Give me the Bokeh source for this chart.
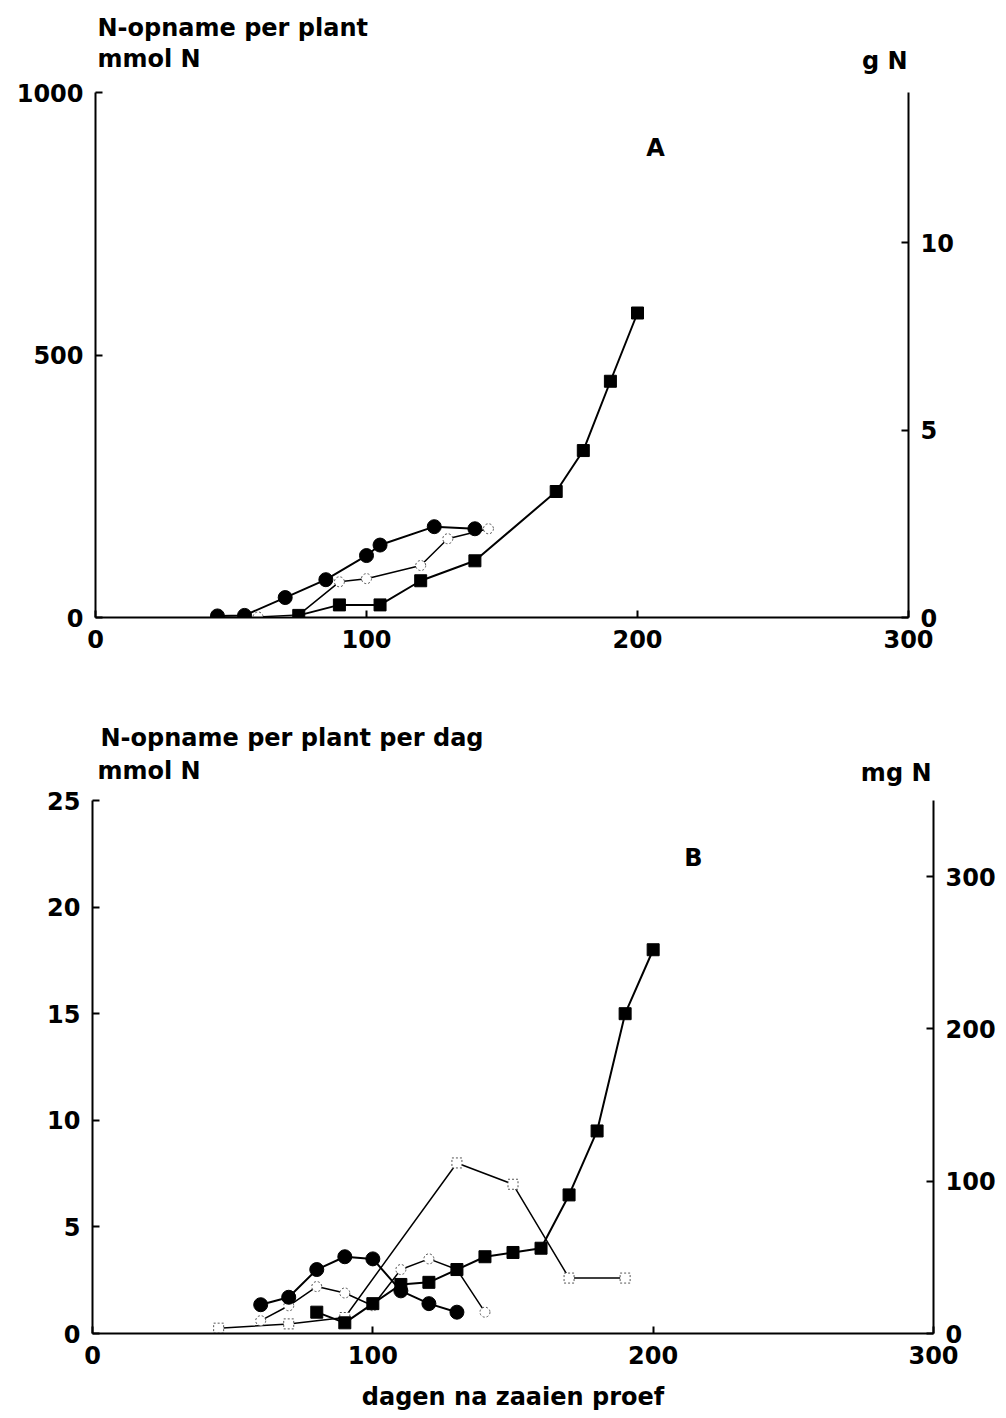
from bokeh.plotting import figure
from bokeh.models import Range1d, LinearAxis, Label, FixedTicker
from bokeh.layouts import column
from bokeh.embed import file_html
from bokeh.resources import INLINE

# ---------------- data ----------------
# Panel A: cumulative N uptake per plant (mmol N)
a_fc_days = [45, 55, 70, 85, 100, 105, 125, 140]
a_fc_vals = [3, 4, 38, 72, 118, 138, 173, 169]
a_oc_days = [60, 75, 90, 100, 120, 130, 145]
a_oc_vals = [1, 5, 68, 74, 99, 150, 169]
a_fs_days = [75, 90, 105, 120, 140, 170, 180, 190, 200]
a_fs_vals = [4, 24, 24, 70, 108, 240, 318, 450, 580]

# Panel B: N uptake per plant per day (mmol N)
b_fc_days = [60, 70, 80, 90, 100, 110, 120, 130]
b_fc_vals = [1.35, 1.7, 3.0, 3.6, 3.5, 2.0, 1.4, 1.0]
b_oc_days = [60, 70, 80, 90, 100, 110, 120, 130, 140]
b_oc_vals = [0.6, 1.3, 2.2, 1.9, 1.3, 3.0, 3.5, 3.0, 1.0]
b_os_days = [45, 70, 90, 130, 150, 170, 190]
b_os_vals = [0.25, 0.45, 0.75, 8.0, 7.0, 2.6, 2.6]
b_fs_days = [80, 90, 100, 110, 120, 130, 140, 150, 160, 170, 180, 190, 200]
b_fs_vals = [1.0, 0.5, 1.4, 2.3, 2.4, 3.0, 3.6, 3.8, 4.0, 6.5, 9.5, 15.0, 18.0]

x_ticks = [0, 100, 200, 300]
a_left_ticks = [0, 500, 1000]
a_right_ticks = [0, 5, 10]
b_left_ticks = [0, 5, 10, 15, 20, 25]
b_right_ticks = [0, 100, 200, 300]

A_YMAX, A_RMAX = 1000, 14       # mmol N  /  g N
B_YMAX, B_RMAX = 25, 350        # mmol N  /  mg N

FONT = "DejaVu Sans"
FS = "24px"


def style_axis(ax, ticks):
    ax.ticker = FixedTicker(ticks=ticks)
    ax.axis_line_width = 2
    ax.axis_line_color = "black"
    ax.major_tick_line_width = 2
    ax.major_tick_in = 7
    ax.major_tick_out = 0
    ax.minor_tick_line_color = None
    ax.major_label_text_font = FONT
    ax.major_label_text_font_style = "bold"
    ax.major_label_text_font_size = FS
    ax.major_label_text_color = "black"
    ax.major_label_standoff = 12


class Panel:
    """Figure whose frame spans (fx0..fx1, fy_top..fy_axis) px, with the axis
    data range 0..ymax mapped to (fy_axis..fy_ymax)."""

    def __init__(self, height, fx0, fx1, fy_top, fy_ymax, fy_axis, fig_top,
                 ymax, rmax, lticks, rticks):
        self.fx0, self.fx1, self.fy_axis, self.fy_ymax = fx0, fx1, fy_axis, fy_ymax
        self.ymax = ymax
        ppu = (fy_axis - fy_ymax) / ymax
        yend = (fy_axis - fy_top) / ppu
        rend = yend * rmax / ymax
        p = figure(width=1006, height=height, output_backend="svg", toolbar_location=None,
                   x_range=Range1d(0, 300), y_range=Range1d(0, yend),
                   min_border_left=fx0, min_border_right=1006 - fx1,
                   min_border_top=fy_top - fig_top,
                   min_border_bottom=fig_top + height - fy_axis)
        try:
            p.frame_align = False
        except Exception:
            pass
        p.outline_line_color = None
        p.grid.grid_line_color = None
        p.background_fill_color = "white"
        p.border_fill_color = "white"
        p.extra_y_ranges = {"r": Range1d(0, rend)}
        style_axis(p.xaxis[0], x_ticks)
        style_axis(p.yaxis[0], lticks)
        p.yaxis[0].bounds = (0, ymax)
        ra = LinearAxis(y_range_name="r", bounds=(0, rmax))
        style_axis(ra, rticks)
        p.add_layout(ra, "right")
        self.p = p

    def px(self, x, y):
        dx = (x - self.fx0) / (self.fx1 - self.fx0) * 300
        dy = (self.fy_axis - y) / (self.fy_axis - self.fy_ymax) * self.ymax
        return dx, dy

    def text(self, x, y, s, align="left"):
        dx, dy = self.px(x, y)
        self.p.add_layout(Label(x=dx, y=dy, text=s, text_font=FONT, text_font_style="bold",
                                text_font_size=FS, text_align=align, text_baseline="middle",
                                text_color="black"))

    def series(self, xs, ys, marker, filled, lw):
        p = self.p
        p.line(xs, ys, line_color="black", line_width=lw)
        if filled:
            p.scatter(xs, ys, marker=marker, size=14 if marker == "circle" else 12,
                      fill_color="black", line_color="black")
        else:
            p.scatter(xs, ys, marker=marker, size=10, fill_color="white",
                      line_color="#555555", line_width=1, line_dash="2 2")


# ---------------- panel A ----------------
A = Panel(700, 95, 908, 8, 92, 617, 0, A_YMAX, A_RMAX, a_left_ticks, a_right_ticks)
A.series(a_oc_days, a_oc_vals, "circle", False, 1.5)
A.series(a_fs_days, a_fs_vals, "square", True, 2)
A.series(a_fc_days, a_fc_vals, "circle", True, 2)
A.text(97, 27, "N-opname per plant")
A.text(97, 58, "mmol N")
A.text(907, 60, "g N", align="right")
A.text(655, 147, "A", align="center")

# ---------------- panel B ----------------
B = Panel(718, 92, 933, 716, 800, 1333, 700, B_YMAX, B_RMAX, b_left_ticks, b_right_ticks)
B.series(b_os_days, b_os_vals, "square", False, 1.5)
B.series(b_oc_days, b_oc_vals, "circle", False, 1.5)
B.series(b_fs_days, b_fs_vals, "square", True, 2)
B.series(b_fc_days, b_fc_vals, "circle", True, 2)
ax = B.p.xaxis[0]
ax.axis_label = "dagen na zaaien proef"
ax.axis_label_text_font = FONT
ax.axis_label_text_font_style = "bold"
ax.axis_label_text_font_size = FS
ax.axis_label_text_color = "black"
ax.axis_label_standoff = 16
B.text(100, 737, "N-opname per plant per dag")
B.text(97, 770, "mmol N")
B.text(931, 772, "mg N", align="right")
B.text(693, 857, "B", align="center")

layout = column(A.p, B.p, spacing=0)
open("out.html", "w").write(file_html(layout, INLINE))
